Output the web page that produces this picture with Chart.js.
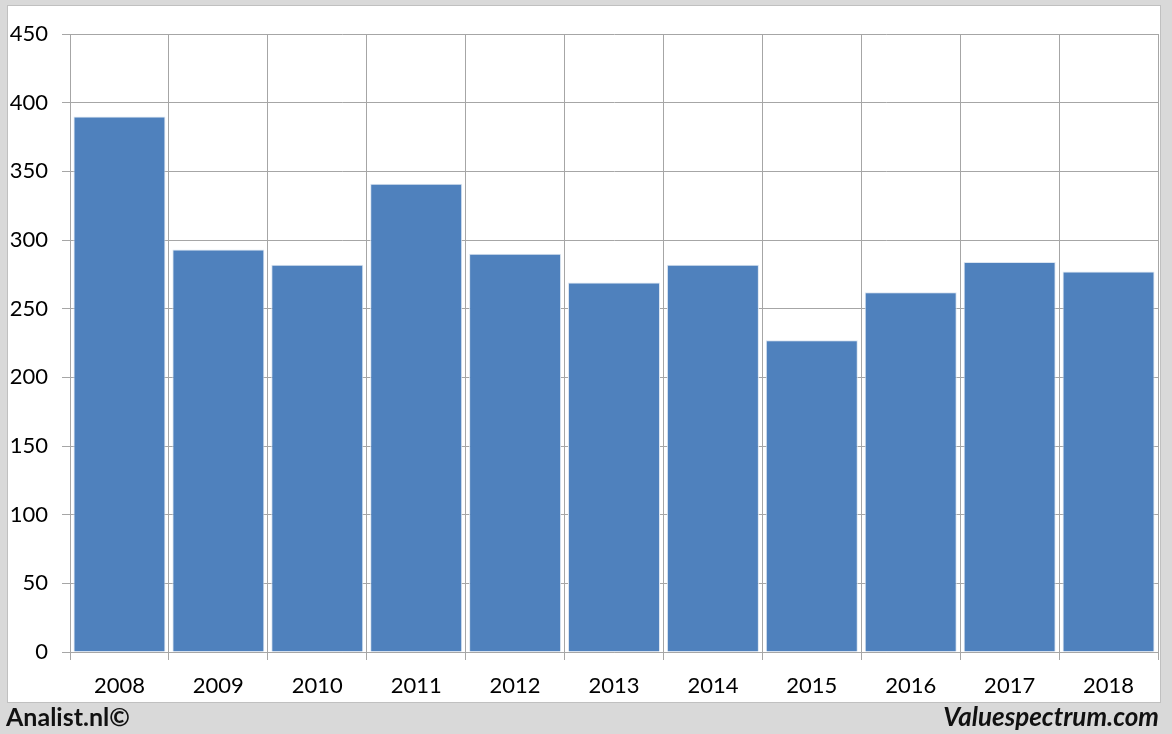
<!DOCTYPE html>
<html>
<head>
<meta charset="utf-8">
<script src="https://cdn.jsdelivr.net/npm/chart.js@4"></script>
<style>
    html, body { margin: 0; padding: 0; }
    body { width: 1172px; height: 734px; background: #d9d9d9; position: relative; overflow: hidden; font-family: Lato, "Open Sans", sans-serif; }
    #panel { position: absolute; left: 7px; top: 5px; width: 1152px; height: 696px; background: #fff; border: 1px solid #c0c0c0; }
    #panel canvas { display: block; }
    .foot { position: absolute; font-weight: bold; color: #111; }
    #left { left: 6px; top: 701px; font-size: 25px; }
    #right { right: 13px; top: 700px; font-size: 26px; font-style: italic; }
</style>
</head>
<body>
<div id="panel"><canvas id="barChart" width="1152" height="696"></canvas></div>
<div class="foot" id="left">Analist.nl©</div>
<div class="foot" id="right">Valuespectrum.com</div>
<script>
const years = ['2008', '2009', '2010', '2011', '2012', '2013', '2014', '2015', '2016', '2017', '2018'];
const values = [390, 293, 282, 341, 290, 269, 282, 227, 262, 284, 277];
const yMax = 450;
const yStep = 50;

const gridColor = '#a6a6a6';
const tickFont = { family: 'Lato, "Open Sans", sans-serif', size: 22 };

new Chart(document.getElementById('barChart').getContext('2d'), {
    type: 'bar',
    data: {
        labels: years,
        datasets: [{
            data: values,
            backgroundColor: '#4f81bd',
            borderColor: '#dbe5f1',
            borderWidth: 1,
            barPercentage: 0.93,
            categoryPercentage: 1
        }]
    },
    options: {
        responsive: false,
        animation: false,
        layout: { padding: { top: 28, right: 2, left: 0, bottom: 0 } },
        plugins: { legend: { display: false }, tooltip: { enabled: false } },
        scales: {
            x: {
                grid: { color: gridColor, tickLength: 8, offset: true },
                border: { color: gridColor },
                ticks: { font: tickFont, color: '#000', padding: 13, maxRotation: 0 },
                afterFit: s => { s.height = 50; }
            },
            y: {
                min: 0,
                max: yMax,
                grid: { color: gridColor, tickLength: 8 },
                border: { color: gridColor },
                ticks: { stepSize: yStep, font: tickFont, color: '#000', padding: 14 },
                afterFit: s => { s.width = 62; }
            }
        }
    }
});
</script>
</body>
</html>
